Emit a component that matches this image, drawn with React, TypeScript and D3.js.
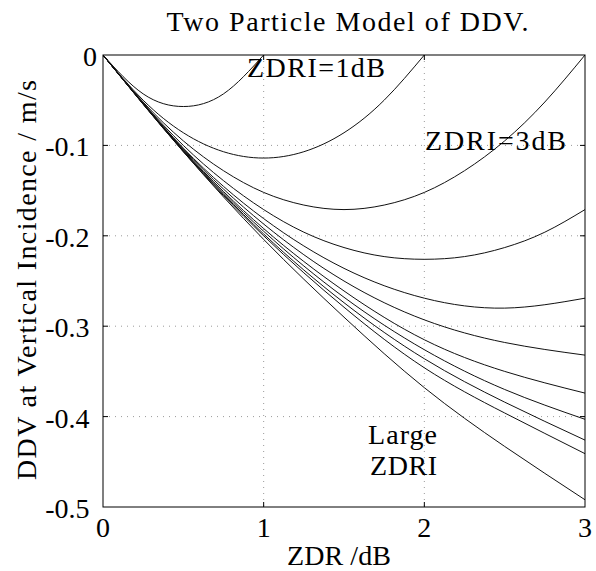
import React from "react";
import * as d3 from "d3";

// ZDR sample grids (dB)
const ZDR_Q = [0, 0.25, 0.5, 0.75, 1, 1.25, 1.5, 1.75, 2, 2.25, 2.5, 2.75, 3];
const ZDR_H = [0, 0.5, 1, 1.5, 2, 2.5, 3];

// DDV at vertical incidence (m/s), one array per ZDRI value
const DDV_ZDRI_1 = [0, -0.043, -0.057, -0.043, 0];
const DDV_ZDRI_2 = [0, -0.05, -0.086, -0.107, -0.114, -0.107, -0.086, -0.05, 0];
const DDV_ZDRI_3 = [0, -0.052, -0.095, -0.128, -0.152, -0.166, -0.171, -0.166, -0.152, -0.128, -0.095, -0.052, 0];
const DDV_ZDRI_4 = [0, -0.053, -0.1, -0.139, -0.171, -0.196, -0.213, -0.223, -0.226, -0.223, -0.213, -0.196, -0.171];
const DDV_ZDRI_5 = [0, -0.103, -0.181, -0.236, -0.269, -0.28, -0.269];
const DDV_ZDRI_6 = [0, -0.104, -0.187, -0.25, -0.293, -0.318, -0.332];
const DDV_ZDRI_7 = [0, -0.105, -0.192, -0.261, -0.315, -0.35, -0.374];
const DDV_ZDRI_8 = [0, -0.106, -0.195, -0.268, -0.326, -0.37, -0.403];
const DDV_ZDRI_9 = [0, -0.106, -0.198, -0.274, -0.336, -0.384, -0.426];
const DDV_ZDRI_10 = [0, -0.107, -0.2, -0.279, -0.346, -0.396, -0.441];
const DDV_LARGE = [0, -0.107, -0.204, -0.29, -0.368, -0.433, -0.492];

const X_TICKS = [0, 1, 2, 3];
const Y_TICKS = [0, -0.1, -0.2, -0.3, -0.4, -0.5];

const TITLE = "Two Particle Model of DDV.";
const X_LABEL = "ZDR /dB";
const Y_LABEL = "DDV at Vertical Incidence / m/s";

const SERIF = "Liberation Serif";

type Pt = [number, number];
const pair = (xs: number[], ys: number[]): Pt[] => ys.map((v, i) => [xs[i], v]);

const SERIES: Pt[][] = [
  pair(ZDR_Q, DDV_ZDRI_1),
  pair(ZDR_Q, DDV_ZDRI_2),
  pair(ZDR_Q, DDV_ZDRI_3),
  pair(ZDR_Q, DDV_ZDRI_4),
  pair(ZDR_H, DDV_ZDRI_5),
  pair(ZDR_H, DDV_ZDRI_6),
  pair(ZDR_H, DDV_ZDRI_7),
  pair(ZDR_H, DDV_ZDRI_8),
  pair(ZDR_H, DDV_ZDRI_9),
  pair(ZDR_H, DDV_ZDRI_10),
  pair(ZDR_H, DDV_LARGE),
];

function Label(props: {
  x: number;
  y: number;
  len?: number;
  anchor?: "start" | "middle" | "end";
  transform?: string;
  children: React.ReactNode;
}) {
  const { x, y, len, anchor, transform, children } = props;
  return (
    <text
      x={x}
      y={y}
      transform={transform}
      textAnchor={anchor || "start"}
      fontFamily={SERIF}
      fontSize={28}
      fill="#000"
      textLength={len}
      lengthAdjust={len ? "spacing" : undefined}
      style={{ fontFamily: SERIF, fontSize: 28 }}
    >
      {children}
    </text>
  );
}

export default function App() {
  const W = 596;
  const H = 571;
  const left = 103, right = 585, top = 55, bottom = 507;
  const x = d3.scaleLinear().domain([0, 3]).range([left, right]);
  const y = d3.scaleLinear().domain([-0.5, 0]).range([bottom, top]);
  const line = d3
    .line<Pt>()
    .x((d) => x(d[0]))
    .y((d) => y(d[1]))
    .curve(d3.curveNatural);

  const gridX = X_TICKS.filter((t) => t > 0 && t < 3);
  const gridY = Y_TICKS.filter((t) => t < 0 && t > -0.5);
  const tick = 5;

  return (
    <svg width={W} height={H} style={{ position: "absolute", left: 0, top: 0 }}>
      <defs>
        <clipPath id="plot-clip">
          <rect x={left} y={top} width={right - left} height={bottom - top} />
        </clipPath>
      </defs>
      <rect x={0} y={0} width={W} height={H} fill="#fff" />

      {/* dotted grid */}
      <g stroke="#9a9a9a" strokeWidth={1} strokeDasharray="1,5">
        {gridX.map((t) => (
          <line key={"gx" + t} x1={x(t)} x2={x(t)} y1={top} y2={bottom} />
        ))}
        {gridY.map((t) => (
          <line key={"gy" + t} x1={left} x2={right} y1={y(t)} y2={y(t)} />
        ))}
      </g>

      {/* curves */}
      <g clipPath="url(#plot-clip)" fill="none" stroke="#111" strokeWidth={1}>
        {SERIES.map((s, i) => (
          <path key={i} d={line(s) || ""} />
        ))}
      </g>

      {/* axes box and inward ticks */}
      <g stroke="#000" strokeWidth={1} fill="none">
        <rect x={left} y={top} width={right - left} height={bottom - top} />
        {gridX.map((t) => (
          <g key={"tx" + t}>
            <line x1={x(t)} x2={x(t)} y1={bottom} y2={bottom - tick} />
            <line x1={x(t)} x2={x(t)} y1={top} y2={top + tick} />
          </g>
        ))}
        {gridY.map((t) => (
          <g key={"ty" + t}>
            <line x1={left} x2={left + tick} y1={y(t)} y2={y(t)} />
            <line x1={right} x2={right - tick} y1={y(t)} y2={y(t)} />
          </g>
        ))}
      </g>

      {/* tick labels */}
      {X_TICKS.map((t) => (
        <Label key={"lx" + t} x={x(t)} y={537} anchor="middle">
          {d3.format("d")(t)}
        </Label>
      ))}
      {Y_TICKS.map((t) => (
        <Label key={"ly" + t} x={t === 0 ? 97 : 89.5} y={y(t) + 11} anchor="end">
          {t === 0 ? "0" : d3.format(".1f")(t).replace("−", "-")}
        </Label>
      ))}

      {/* title and axis labels */}
      <Label x={166.5} y={31} len={362}>
        {TITLE}
      </Label>
      <Label x={287} y={565} len={104}>
        {X_LABEL}
      </Label>
      <Label x={0} y={0} len={400} transform="translate(36,480) rotate(-90)">
        {Y_LABEL}
      </Label>

      {/* annotations */}
      <Label x={247} y={77} len={138}>
        ZDRI=1dB
      </Label>
      <Label x={425} y={150} len={141}>
        ZDRI=3dB
      </Label>
      <Label x={368} y={444} len={69}>
        Large
      </Label>
      <Label x={370} y={475} len={67}>
        ZDRI
      </Label>
    </svg>
  );
}
